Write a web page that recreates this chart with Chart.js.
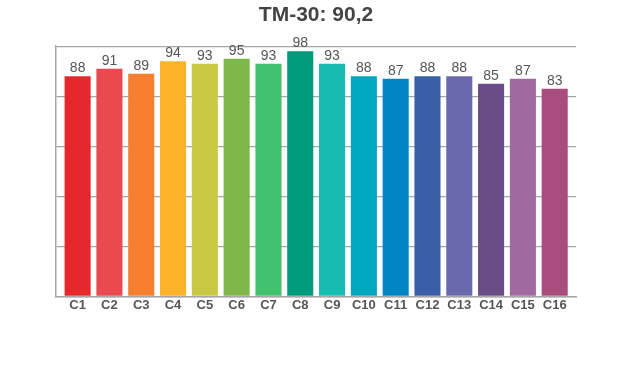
<!DOCTYPE html>
<html>
<head>
<meta charset="utf-8">
<script src="https://cdn.jsdelivr.net/npm/chart.js@4.4.0/dist/chart.umd.min.js"></script>
<style>
    html, body { margin: 0; padding: 0; background: #ffffff; }
    canvas { display: block; }
</style>
</head>
<body>
<canvas id="tm30-chart" width="620" height="370"></canvas>
<script>
// Colour fidelity values per hue bin
const categories = ['C1', 'C2', 'C3', 'C4', 'C5', 'C6', 'C7', 'C8', 'C9', 'C10', 'C11', 'C12', 'C13', 'C14', 'C15', 'C16'];
const fidelityValues = [88, 91, 89, 94, 93, 95, 93, 98, 93, 88, 87, 88, 88, 85, 87, 83];
const barColors = [
    '#e5282b', '#e84a50', '#f67f2f', '#fdb22a', '#c9c845', '#7fb74a', '#41c06d', '#009b7c',
    '#17bcb0', '#00a7c0', '#0085c4', '#3a5fa8', '#6b69ae', '#6a4d87', '#a069a0', '#a94c7e'
];
const titleText = 'TM-30: 90,2';

const fontFamily = '"Liberation Sans", Arial, sans-serif';
const textColor = '#555555';
const gridColor = '#a6a6a6';

// Draws the value above each bar
const valueLabels = {
    id: 'valueLabels',
    afterDatasetsDraw(chart) {
        const ctx = chart.ctx;
        const meta = chart.getDatasetMeta(0);
        ctx.save();
        ctx.font = '14px ' + fontFamily;
        ctx.fillStyle = textColor;
        ctx.textAlign = 'center';
        ctx.textBaseline = 'bottom';
        meta.data.forEach((bar, i) => {
            ctx.fillText(String(fidelityValues[i]), bar.x, bar.y - 1);
        });
        ctx.restore();
    }
};

const ctx = document.getElementById('tm30-chart').getContext('2d');
new Chart(ctx, {
    type: 'bar',
    data: {
        datasets: [{
            data: fidelityValues.map((v, i) => ({ x: i, y: v })),
            backgroundColor: barColors,
            borderWidth: 0,
            barPercentage: 0.82,
            categoryPercentage: 1
        }]
    },
    options: {
        responsive: false,
        animation: false,
        layout: {
            padding: { left: 56, right: 44, top: 0, bottom: 56 }
        },
        scales: {
            x: {
                type: 'linear',
                offset: false,
                min: -0.68,
                max: 15.67,
                afterBuildTicks: function(scale) {
                    scale.ticks = scale.ticks.filter(t => Number.isInteger(t.value));
                },
                grid: {
                    display: false,
                    drawTicks: false,
                    offset: false
                },
                border: {
                    display: true,
                    color: gridColor,
                    width: 1.5
                },
                ticks: {
                    stepSize: 1,
                    includeBounds: false,
                    autoSkip: false,
                    maxRotation: 0,
                    padding: 1,
                    color: textColor,
                    font: {
                        family: fontFamily,
                        size: 13,
                        weight: 'bold'
                    },
                    callback: function(value) {
                        return Number.isInteger(value) ? categories[value] : '';
                    }
                }
            },
            y: {
                min: 0,
                max: 100,
                ticks: {
                    display: false,
                    stepSize: 20
                },
                grid: {
                    color: gridColor,
                    lineWidth: 1.2,
                    drawTicks: false
                },
                border: {
                    display: true,
                    color: gridColor,
                    width: 1.5
                }
            }
        },
        plugins: {
            legend: {
                display: false
            },
            tooltip: {
                enabled: false
            },
            title: {
                display: true,
                text: titleText,
                color: '#444444',
                font: {
                    family: fontFamily,
                    size: 21,
                    weight: 'bold'
                },
                padding: { top: 3, bottom: 18 }
            }
        }
    },
    plugins: [valueLabels]
});
</script>
</body>
</html>
